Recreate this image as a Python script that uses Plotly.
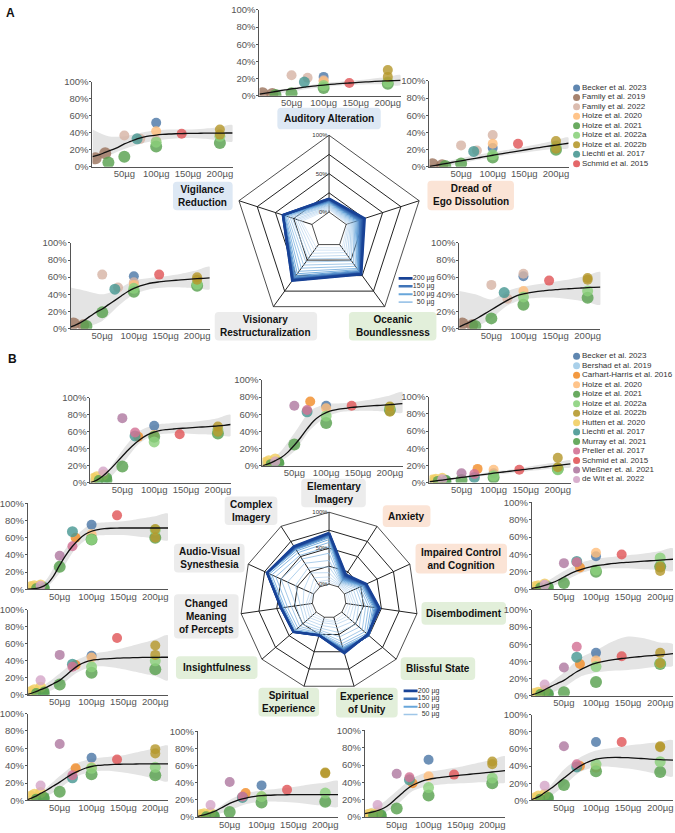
import plotly.graph_objects as go

W, H = 675, 833

# ---------------- shared grids / ticks ----------------
DOSE_GRID = [0, 10, 20, 30, 40, 50, 60, 70, 80, 90, 100, 110, 120, 130, 140, 150, 160, 170, 180, 190, 200, 210, 220]
BAND_GRID = [0, 25, 50, 75, 100, 125, 150, 175, 200, 220]
RADAR_DOSES = [10, 20, 30, 40, 50, 60, 70, 80, 90, 100, 110, 120, 130, 140, 150, 160, 170, 180, 190, 200]
LEGEND_DOSES = [200, 150, 100, 50]
X_TICKS = [50, 100, 150, 200]
X_TICK_TEXT = ["50µg", "100µg", "150µg", "200µg"]
Y_TICKS = [0, 20, 40, 60, 80, 100]
Y_TICK_TEXT = ["0%", "20%", "40%", "60%", "80%", "100%"]

# ---------------- panel A studies ----------------
A_STUDIES = ["Becker et al. 2023", "Family et al. 2019", "Family et al. 2022", "Holze et al. 2020",
             "Holze et al. 2021", "Holze et al. 2022a", "Holze et al. 2022b", "Liechti et al. 2017",
             "Schmid et al. 2015"]
A_STUDY_DOSES = [[100], [5, 20], [50, 75, 100], [100], [25, 50, 100, 200], [100, 200], [200, 200], [70], [140]]

A_VIG = [[52], [10, 16], [37, 33, 31], [42], [5, 12, 24, 28], [29, 36], [44, 38], [33], [39]]
A_AUD = [[22], [3, 2], [24, 21, 18], [17], [1, 3, 9, 14], [12, 16], [30, 22], [16], [15]]
A_DRE = [[22], [3, 2], [25, 19, 37], [27], [1, 4, 11, 20], [14, 24], [30, 21], [18], [27]]
A_VIS = [[61], [6, 4], [63, 48, 54], [51], [3, 19, 43, 50], [47, 52], [60, 57], [46], [63]]
A_OCE = [[61], [6, 4], [51, 35, 64], [44], [3, 12, 28, 36], [37, 44], [59, 57], [42], [56]]

CURVE_VIG = [12, 14, 17, 20, 23, 27, 30, 33, 35, 36.5, 37.5, 38.2, 38.7, 39, 39.2, 39.4, 39.5, 39.6, 39.7, 39.8, 39.8, 39.9, 39.9]
CURVE_AUD = [2, 3.2, 4.4, 5.6, 6.8, 8, 9, 10, 11, 11.8, 12.5, 13.2, 13.8, 14.4, 14.9, 15.4, 15.9, 16.3, 16.7, 17.1, 17.4, 17.7, 18]
CURVE_DRE = [0.5, 1.8, 3.1, 4.4, 5.7, 7, 8.3, 9.6, 10.9, 12.2, 13.5, 14.8, 16, 17.2, 18.4, 19.6, 20.8, 22, 23.2, 24.3, 25.4, 26.5, 27.5]
CURVE_VIS = [2, 5, 9, 14, 19, 23, 28, 33, 38, 43, 47, 50, 52, 53.5, 54.5, 55.3, 56, 56.6, 57.2, 57.7, 58.2, 58.7, 59.2]
CURVE_OCE = [2, 5.5, 9, 13, 17.5, 22, 26.5, 31, 35, 38.5, 40.5, 42, 43.2, 44, 44.8, 45.4, 46, 46.5, 47, 47.4, 47.8, 48.2, 48.5]

LO_VIG = [5, 13, 21, 27, 31, 33, 34, 33, 31, 30]
HI_VIG = [44, 36, 36, 40, 43, 44, 44, 45, 47, 49]
LO_AUD = [0, 2, 5, 8, 10, 12, 13, 13.5, 13, 12.5]
HI_AUD = [5, 7, 9, 12, 15, 16.5, 18, 20, 22, 24]
LO_DRE = [0, 1, 4, 8, 11, 14, 16.5, 19, 21, 22]
HI_DRE = [3, 6, 10, 14, 17, 20, 23.5, 27, 31, 34]
LO_VIS = [0, 2, 9, 26, 40, 46, 48, 48, 47, 46]
HI_VIS = [48, 44, 40, 46, 56, 59, 61, 64, 68, 72]
LO_OCE = [0, 2, 12, 27, 34, 36, 36, 34, 31, 28]
HI_OCE = [44, 40, 34, 44, 49, 52, 55, 58, 62, 66]

# ---------------- panel B studies ----------------
B_STUDIES = ["Becker et al. 2023", "Bershad et al. 2019", "Carhart-Harris et al. 2016", "Holze et al. 2020",
             "Holze et al. 2021", "Holze et al. 2022a", "Holze et al. 2022b", "Hutten et al. 2020",
             "Liechti et al. 2017", "Murray et al. 2021", "Preller et al. 2017", "Schmid et al. 2015",
             "Wießner et. al. 2021", "de Wit et al. 2022"]
B_STUDY_DOSES = [[100], [6.5, 13, 26], [75], [100], [25, 50, 100, 200], [100, 200], [200, 200], [5, 10, 20],
                 [70], [13, 26], [70], [140], [50], [20]]

B_CI = [[67], [2, 3, 5], [54], [56], [3, 19, 54, 58], [48, 62], [66, 60], [5, 7, 9], [55], [3, 6], [59], [57], [76], [13]]
B_EI = [[70], [2, 3, 4], [75], [67], [3, 25, 50, 65], [58, 68], [69, 63], [4, 6, 8], [63], [2, 4], [65], [70], [70], [5]]
B_AX = [[11], [2, 2, 3], [16], [15], [1, 3, 6, 16], [8, 15], [29, 18], [3, 4, 5], [6], [2, 3], [10], [15], [11], [4]]
B_AV = [[75], [1, 2, 3], [60], [64], [1, 26, 58, 60], [58, 69], [70, 60], [3, 4, 5], [67], [1, 2], [50], [86], [39], [4]]
B_IC = [[38], [1, 2, 3], [25], [42], [1, 7, 20, 26], [22, 36], [26, 21], [3, 4, 6], [32], [2, 3], [31], [40], [30], [5]]
B_CM = [[46], [1, 2, 3], [35], [44], [1, 12, 26, 30], [33, 40], [58, 47], [4, 6, 9], [36], [2, 4], [33], [67], [47], [17]]
B_DB = [[50], [1, 2, 3], [37], [41], [1, 4, 16, 37], [34, 38], [50, 38], [3, 4, 6], [45], [2, 3], [57], [46], [33], [13]]
B_IN = [[49], [1, 2, 3], [37], [38], [2, 10, 30, 29], [37, 38], [59, 54], [5, 7, 9], [26], [2, 4], [29], [47], [65], [17]]
B_SE = [[37], [1, 1, 2], [28], [24], [1, 6, 17, 18], [24, 28], [52, 51], [3, 4, 5], [23], [1, 2], [24], [32], [41], [14]]
B_EU = [[66], [1, 2, 3], [39], [47], [1, 10, 25, 39], [34, 45], [64, 61], [3, 4, 5], [43], [2, 3], [46], [49], [50], [14]]
B_BS = [[68], [1, 2, 3], [40], [38], [2, 18, 34, 33], [42, 45], [63, 62], [3, 5, 7], [39], [2, 4], [42], [68], [63], [17]]

CURVE_CI = [0, 3, 8, 15, 23, 31, 39, 46, 52, 56.5, 59.5, 61.5, 62.5, 63.2, 63.8, 64.3, 64.8, 65.3, 65.8, 66.3, 66.8, 67.5, 68.5]
CURVE_EI = [0, 2.5, 6, 10, 16, 24, 33, 43, 52, 58, 62, 64.5, 66, 67, 68, 68.7, 69.3, 69.8, 70.3, 70.8, 71.3, 71.8, 72.5]
CURVE_AX = [1, 2, 3, 4, 5, 6, 7, 8, 9, 10, 11, 11.9, 12.8, 13.7, 14.6, 15.5, 16.4, 17.3, 18.2, 19.1, 20, 20.9, 21.8]
CURVE_AV = [0, 0.5, 2, 6, 15, 28, 40, 50, 58, 64, 67.5, 69.5, 70.5, 71, 71.2, 71.3, 71.3, 71.3, 71.3, 71.3, 71.3, 71.3, 71.3]
CURVE_IC = [1, 2.5, 4.5, 7, 10, 14, 18, 21, 23.5, 25.5, 27, 28, 29, 29.8, 30.5, 31, 31.5, 32, 32.5, 33, 33.5, 34, 34.5]
CURVE_CM = [0.5, 3, 6, 9, 13, 17, 23, 29.5, 35, 38.5, 40.5, 41.5, 42.2, 42.7, 43.1, 43.4, 43.6, 43.8, 44, 44, 44.1, 44.2, 44.2]
CURVE_DB = [1, 3.5, 7, 11, 14.5, 18, 23, 28, 32, 35.5, 38, 39.8, 41.2, 42.4, 43.4, 44.2, 45, 45.7, 46.4, 47, 47.6, 48.3, 49]
CURVE_IN = [1, 4, 8, 12, 16.5, 21, 26, 30.5, 34, 37, 39, 40.2, 40.8, 41.2, 41.5, 41.7, 41.8, 41.9, 42, 42, 42, 42, 42]
CURVE_SE = [1, 2.5, 5, 8, 12, 16, 19, 21.2, 23, 24.2, 25, 25.5, 25.8, 26, 26.1, 26.2, 26.2, 26.2, 26.2, 26.2, 26.2, 26.2, 26.2]
CURVE_EU = [4, 5.5, 7.5, 10.5, 15.5, 22, 28.5, 34.5, 38.5, 41.5, 43.5, 44.8, 45.8, 46.7, 47.5, 48.3, 49, 49.8, 50.5, 51.2, 52, 52.8, 53.6]
CURVE_BS = [1, 4, 9, 14, 20, 26, 32, 37.5, 42, 45.5, 48, 49.3, 49.8, 50, 49.9, 49.7, 49.3, 48.8, 48.3, 47.8, 47.4, 47.1, 46.9]

LO_CI = [0, 3, 22, 45, 56, 58, 58, 57, 56, 55]
HI_CI = [2, 13, 38, 60, 68, 70, 71, 73, 76, 80]
LO_EI = [0, 4, 17, 42, 57, 63, 64, 64, 63, 62]
HI_EI = [2, 14, 38, 64, 72, 73, 75, 78, 82, 86]
LO_AX = [0, 2, 5, 7, 9, 11, 13, 15, 17, 18]
HI_AX = [2, 4, 7, 10, 13, 15, 18, 21, 24, 26]
LO_AV = [0, 0, 19, 47, 61, 63, 63, 61, 59, 57]
HI_AV = [1, 8, 37, 62, 76, 78, 79, 82, 85, 88]
LO_IC = [0, 2, 9, 18, 23, 24, 24, 23, 22, 21]
HI_IC = [3, 10, 21, 30, 35, 37, 39, 41, 44, 47]
LO_CM = [0, 2, 10, 25, 33, 33, 30, 26, 22, 17]
HI_CM = [2, 11, 25, 40, 48, 51, 55, 60, 65, 70]
LO_DB = [0, 2, 10, 22, 27, 29, 30, 32, 34, 35]
HI_DB = [3, 13, 27, 44, 53, 63, 69, 67, 62, 60]
LO_IN = [0, 3, 14, 27, 33, 34, 32, 29, 25, 22]
HI_IN = [2, 12, 28, 42, 48, 50, 52, 56, 60, 63]
LO_SE = [0, 2, 8, 15, 18, 18, 17, 15, 13, 12]
HI_SE = [2, 8, 20, 28, 31, 33, 35, 38, 40, 42]
LO_EU = [0, 3, 14, 30, 36, 38, 39, 40, 40, 40]
HI_EU = [8, 15, 30, 45, 52, 55, 58, 62, 66, 70]
LO_BS = [0, 3, 17, 33, 39, 39, 37, 34, 30, 28]
HI_BS = [2, 14, 36, 50, 58, 61, 64, 66, 68, 70]

# ---------------- styles ----------------
STUDY_COLORS = {
    "Becker et al. 2023": "#4e79a7", "Family et al. 2019": "#9c755f", "Family et al. 2022": "#d7b5a6",
    "Holze et al. 2020": "#ffbe7d", "Holze et al. 2021": "#59a14f", "Holze et al. 2022a": "#8cd17d",
    "Holze et al. 2022b": "#b6992d", "Liechti et al. 2017": "#499894", "Schmid et al. 2015": "#e15759",
    "Bershad et al. 2019": "#a0cbe8", "Carhart-Harris et al. 2016": "#f28e2b", "Hutten et al. 2020": "#f1ce63",
    "Murray et al. 2021": "#59a14f", "Preller et al. 2017": "#d37295", "Wießner et. al. 2021": "#b07aa1",
    "de Wit et al. 2022": "#d4a6c8",
}
STUDY_SIZES = {
    "Family et al. 2019": 12, "Holze et al. 2021": 12, "Holze et al. 2022a": 11, "Liechti et al. 2017": 11,
    "Hutten et al. 2020": 11,
}
BOX_COLORS = {"blue": "#dde8f4", "peach": "#fbe4d6", "grey": "#ececec", "green": "#e2efda"}
FONT = "Liberation Sans, Arial, sans-serif"

# panel key -> (values, curve, band lo, band hi, set)
PANEL_DATA = {
    "VIG": (A_VIG, CURVE_VIG, LO_VIG, HI_VIG, "A"),
    "AUD": (A_AUD, CURVE_AUD, LO_AUD, HI_AUD, "A"),
    "DRE": (A_DRE, CURVE_DRE, LO_DRE, HI_DRE, "A"),
    "VIS": (A_VIS, CURVE_VIS, LO_VIS, HI_VIS, "A"),
    "OCE": (A_OCE, CURVE_OCE, LO_OCE, HI_OCE, "A"),
    "CI": (B_CI, CURVE_CI, LO_CI, HI_CI, "B"),
    "EI": (B_EI, CURVE_EI, LO_EI, HI_EI, "B"),
    "AX": (B_AX, CURVE_AX, LO_AX, HI_AX, "B"),
    "AV": (B_AV, CURVE_AV, LO_AV, HI_AV, "B"),
    "IC": (B_IC, CURVE_IC, LO_IC, HI_IC, "B"),
    "CM": (B_CM, CURVE_CM, LO_CM, HI_CM, "B"),
    "DB": (B_DB, CURVE_DB, LO_DB, HI_DB, "B"),
    "IN": (B_IN, CURVE_IN, LO_IN, HI_IN, "B"),
    "SE": (B_SE, CURVE_SE, LO_SE, HI_SE, "B"),
    "EU": (B_EU, CURVE_EU, LO_EU, HI_EU, "B"),
    "BS": (B_BS, CURVE_BS, LO_BS, HI_BS, "B"),
}

# plot rectangles in pixels (x0, y0, x1, y1)
PANEL_RECTS = {
    "VIG": (90, 77, 231, 163), "AUD": (258, 4, 400, 91), "DRE": (429, 76, 569, 163),
    "VIS": (68, 240, 208, 327), "OCE": (459, 240, 601, 327),
    "CI": (88, 397, 229, 483), "EI": (261, 379, 402, 466), "AX": (429, 396, 571, 483),
    "AV": (25, 504, 166, 591), "IC": (532, 503, 674, 591),
    "CM": (25, 612, 166, 698), "DB": (532, 612, 674, 699),
    "IN": (25, 717, 166, 805), "SE": (196, 735, 337, 822), "EU": (364, 734, 505, 822), "BS": (532, 718, 674, 805),
}

# labels: text, colour, box rect (px)
LABELS = {
    "AUD": ("Auditory Alteration", "blue", (276, 103, 380, 125)),
    "VIG": ("Vigilance<br>Reduction", "blue", (171, 178, 231, 207)),
    "DRE": ("Dread of<br>Ego Dissolution", "peach", (427, 177, 514, 207)),
    "VIS": ("Visionary<br>Restructuralization", "grey", (213, 310, 316, 339)),
    "OCE": ("Oceanic<br>Boundlessness", "green", (348, 310, 436, 339)),
    "EI": ("Elementary<br>Imagery", "grey", (300, 479, 365, 508)),
    "CI": ("Complex<br>Imagery", "grey", (223, 497, 276, 526)),
    "AX": ("Anxiety", "peach", (382, 506, 430, 528)),
    "IC": ("Impaired Control<br>and Cognition", "peach", (415, 545, 507, 575)),
    "AV": ("Audio-Visual<br>Synesthesia", "grey", (172, 545, 243, 574)),
    "CM": ("Changed<br>Meaning<br>of Percepts", "grey", (172, 596, 237, 641)),
    "DB": ("Disembodiment", "green", (421, 604, 506, 627)),
    "IN": ("Insightfulness", "green", (174, 659, 256, 682)),
    "BS": ("Blissful State", "green", (400, 660, 475, 683)),
    "SE": ("Spiritual<br>Experience", "green", (257, 691, 318, 720)),
    "EU": ("Experience<br>of Unity", "green", (335, 691, 397, 721)),
}

RADAR_A_AXES = ["AUD", "DRE", "OCE", "VIS", "VIG"]
RADAR_B_AXES = ["EI", "AX", "IC", "DB", "BS", "EU", "SE", "IN", "CM", "AV", "CI"]
RADAR_A_BOX = (328, 227, 96)   # centre x, centre y, radius (px)
RADAR_B_BOX = (328, 603, 90)


def px_dom_x(a, b):
    return [a / W, b / W]


def px_dom_y(top, bottom):
    return [1 - bottom / H, 1 - top / H]


def dose_color(d):
    anchors = [(0.0, (214, 230, 246)), (0.5, (104, 166, 218)), (1.0, (24, 66, 150))]
    t = d / 200.0
    for (t0, c0), (t1, c1) in zip(anchors[:-1], anchors[1:]):
        if t <= t1:
            f = (t - t0) / (t1 - t0)
            c = [round(c0[k] + f * (c1[k] - c0[k])) for k in range(3)]
            return f"rgb({c[0]},{c[1]},{c[2]})"
    return "rgb(24,66,150)"


def dose_width(d):
    return 0.7 + 1.8 * (d / 200.0) ** 3


fig = go.Figure()
layout = {}
shapes = []
annotations = []

axis_font = dict(family=FONT, size=9.5, color="#555")
n = 0
for key, rect in PANEL_RECTS.items():
    n += 1
    vals, curve, lo, hi, which = PANEL_DATA[key]
    studies = A_STUDIES if which == "A" else B_STUDIES
    sdoses = A_STUDY_DOSES if which == "A" else B_STUDY_DOSES
    xa = "x" if n == 1 else f"x{n}"
    ya = "y" if n == 1 else f"y{n}"
    x0, y0, x1, y1 = rect
    layout["xaxis" if n == 1 else f"xaxis{n}"] = dict(
        domain=px_dom_x(x0, x1), anchor=ya, range=[0, 220], tickvals=X_TICKS, ticktext=X_TICK_TEXT,
        showline=True, linecolor="#555", linewidth=1, ticks="", showgrid=False, zeroline=False,
        tickfont=axis_font, fixedrange=True, ticklabelstandoff=-2)
    layout["yaxis" if n == 1 else f"yaxis{n}"] = dict(
        domain=px_dom_y(y0, y1), anchor=xa, range=[0, 100], tickvals=Y_TICKS, ticktext=Y_TICK_TEXT,
        showline=True, linecolor="#555", linewidth=1, ticks="outside", ticklen=2, tickcolor="#555",
        showgrid=False, zeroline=False, tickfont=axis_font, fixedrange=True, ticklabelstandoff=-1)
    # confidence band
    fig.add_trace(go.Scatter(x=BAND_GRID + BAND_GRID[::-1], y=hi + lo[::-1], fill="toself",
                             fillcolor="#e4e4e4", line=dict(width=0, shape="spline", smoothing=0.8),
                             mode="lines", xaxis=xa, yaxis=ya, showlegend=False, hoverinfo="skip"))
    # study points
    px_, py_, pc_, ps_ = [], [], [], []
    for s, ds, vs in zip(studies, sdoses, vals):
        for d, v in zip(ds, vs):
            px_.append(d)
            py_.append(v)
            pc_.append(STUDY_COLORS[s])
            ps_.append(STUDY_SIZES.get(s, 10))
    fig.add_trace(go.Scatter(x=px_, y=py_, mode="markers", xaxis=xa, yaxis=ya, showlegend=False,
                             marker=dict(color=pc_, size=ps_, opacity=0.82, line=dict(width=0))))
    # fitted curve
    fig.add_trace(go.Scatter(x=DOSE_GRID, y=curve, mode="lines", xaxis=xa, yaxis=ya, showlegend=False,
                             line=dict(color="#111", width=1.3, shape="spline")))


# ---------- study legends (drawn in their own invisible axes) ----------
def add_study_legend(studies, top_px, n_idx):
    xa, ya = f"x{n_idx}", f"y{n_idx}"
    rows = len(studies)
    step = 9.6
    layout[f"xaxis{n_idx}"] = dict(domain=px_dom_x(572, 675), anchor=ya, range=[0, 103], visible=False, fixedrange=True)
    layout[f"yaxis{n_idx}"] = dict(domain=px_dom_y(top_px - step / 2, top_px + step * (rows - 0.5)), anchor=xa,
                                   range=[rows - 0.5, -0.5], visible=False, fixedrange=True)
    fig.add_trace(go.Scatter(x=[5] * rows, y=list(range(rows)), mode="markers+text", text=studies,
                             textposition="middle right", cliponaxis=False, xaxis=xa, yaxis=ya, showlegend=False,
                             marker=dict(color=[STUDY_COLORS[s] for s in studies], size=7, opacity=0.9),
                             textfont=dict(family=FONT, size=8, color="#333")))


add_study_legend(A_STUDIES, 83, 17)
add_study_legend(B_STUDIES, 355, 18)


# ---------- dose legends ----------
def add_dose_legend(x_left, top_px, n_idx):
    xa, ya = f"x{n_idx}", f"y{n_idx}"
    layout[f"xaxis{n_idx}"] = dict(domain=px_dom_x(x_left, x_left + 47), anchor=ya, range=[0, 47], visible=False, fixedrange=True)
    layout[f"yaxis{n_idx}"] = dict(domain=px_dom_y(top_px - 4, top_px + 28), anchor=xa, range=[3.5, -0.5],
                                   visible=False, fixedrange=True)
    for k, d in enumerate(LEGEND_DOSES):
        fig.add_trace(go.Scatter(x=[3, 17], y=[k, k], mode="lines", xaxis=xa, yaxis=ya, showlegend=False,
                                 cliponaxis=False, line=dict(color=dose_color(d), width=2.6 - 0.3 * k)))
    fig.add_trace(go.Scatter(x=[39] * 4, y=[0, 1, 2, 3], mode="text", text=[f"{d} µg" for d in LEGEND_DOSES],
                             textposition="middle left", cliponaxis=False, xaxis=xa, yaxis=ya, showlegend=False,
                             textfont=dict(family=FONT, size=7, color="#333")))


add_dose_legend(395, 276, 19)
add_dose_legend(400, 694, 20)


# ---------- radars ----------
def add_radar(axes_keys, box, polar_name):
    cx, cy, R = box
    for d in RADAR_DOSES:
        idx = DOSE_GRID.index(d)
        r = [PANEL_DATA[k][1][idx] for k in axes_keys]
        fig.add_trace(go.Scatterpolar(r=r + [r[0]], theta=axes_keys + [axes_keys[0]], mode="lines",
                                      subplot=polar_name, showlegend=False,
                                      line=dict(color=dose_color(d), width=dose_width(d))))
    layout[polar_name] = dict(
        domain=dict(x=px_dom_x(cx - R, cx + R), y=px_dom_y(cy - R, cy + R)),
        hole=0.19, gridshape="linear", bgcolor="rgba(0,0,0,0)",
        angularaxis=dict(rotation=90, direction="clockwise", showticklabels=False, ticks="",
                         linecolor="#222", linewidth=0.8, gridcolor="#222", gridwidth=0.7,
                         categoryorder="array", categoryarray=axes_keys),
        radialaxis=dict(range=[0, 100], angle=90, tickangle=90, side="counterclockwise",
                        tickvals=[0, 25, 50, 75, 100], ticktext=["0%", "", "50%", "", "100%"],
                        tickfont=dict(family=FONT, size=6, color="#333"), showline=False, ticks="",
                        gridcolor="#222", gridwidth=0.7),
    )


add_radar(RADAR_A_AXES, RADAR_A_BOX, "polar")
add_radar(RADAR_B_AXES, RADAR_B_BOX, "polar2")


# ---------- label boxes ----------
def rrect(x0, y0, x1, y1, r=4):
    def P(x, y):
        return f"{x / W:.5f},{1 - y / H:.5f}"
    return (f"M {P(x0 + r, y0)} L {P(x1 - r, y0)} Q {P(x1, y0)} {P(x1, y0 + r)} L {P(x1, y1 - r)} "
            f"Q {P(x1, y1)} {P(x1 - r, y1)} L {P(x0 + r, y1)} Q {P(x0, y1)} {P(x0, y1 - r)} "
            f"L {P(x0, y0 + r)} Q {P(x0, y0)} {P(x0 + r, y0)} Z")


for key, (txt, col, (bx0, by0, bx1, by1)) in LABELS.items():
    shapes.append(dict(type="path", path=rrect(bx0, by0, bx1, by1), xref="paper", yref="paper",
                       fillcolor=BOX_COLORS[col], line=dict(width=0), layer="below"))
    annotations.append(dict(text=f"<b>{txt}</b>", x=(bx0 + bx1) / 2 / W, y=1 - (by0 + by1) / 2 / H,
                            xref="paper", yref="paper", xanchor="center", yanchor="middle", showarrow=False,
                            font=dict(family=FONT, size=10, color="#111")))

for letter, (lx, ly) in {"A": (8, 7), "B": (10, 358)}.items():
    annotations.append(dict(text=f"<b>{letter}</b>", x=lx / W, y=1 - ly / H, xref="paper", yref="paper",
                            xanchor="center", yanchor="middle", showarrow=False,
                            font=dict(family=FONT, size=12, color="#111")))

fig.update_layout(width=W, height=H, margin=dict(l=0, r=0, t=0, b=0), autosize=False,
                  paper_bgcolor="white", plot_bgcolor="rgba(0,0,0,0)", showlegend=False,
                  font=dict(family=FONT), shapes=shapes, annotations=annotations, **layout)

fig.write_html("out.html", config={"displayModeBar": False},
               post_script="document.body.style.margin='0';")
